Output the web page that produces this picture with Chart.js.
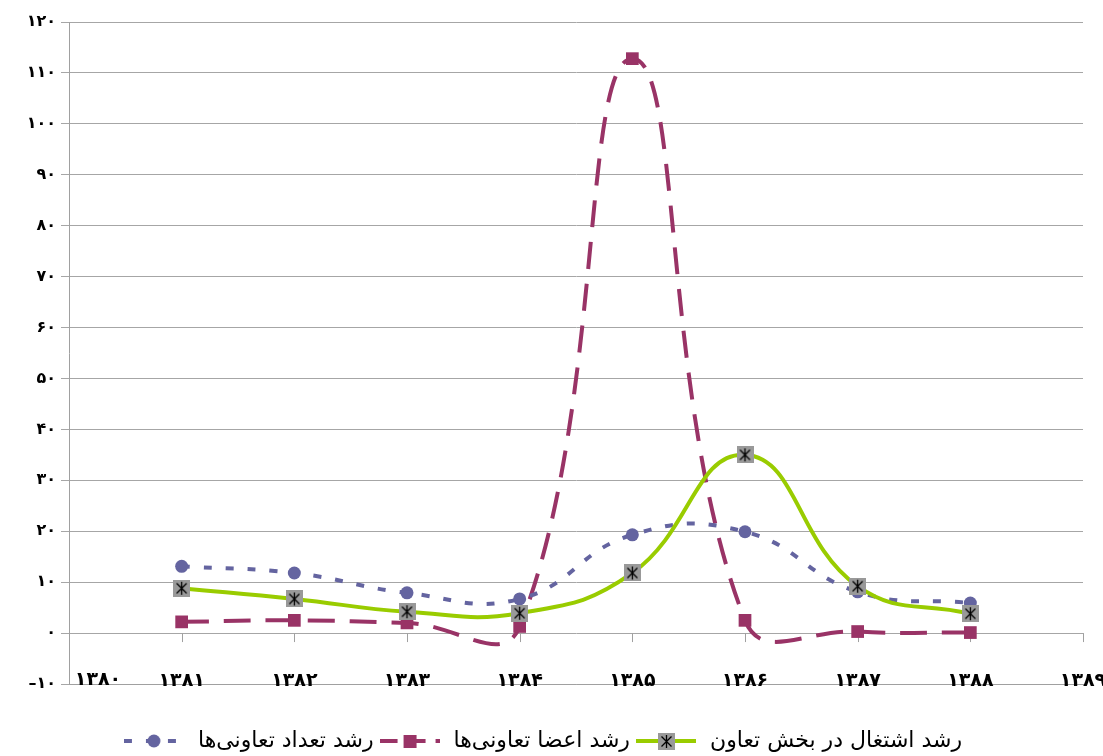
<!DOCTYPE html>
<html>
<head>
<meta charset="utf-8">
<script src="https://cdn.jsdelivr.net/npm/chart.js@4/dist/chart.umd.min.js"></script>
<style>
  html, body { margin: 0; padding: 0; background: #fff; }
  #wrap { width: 1103px; height: 756px; }
</style>
</head>
<body>
<div id="wrap"><canvas id="myChart"></canvas></div>
<script>
const years = [1381, 1382, 1383, 1384, 1385, 1386, 1387, 1388];
const seriesNames = ['رشد تعداد تعاونی‌ها', 'رشد اعضا تعاونی‌ها', 'رشد اشتغال در بخش تعاون'];
const cooperativesGrowth = [13.1, 11.8, 7.9, 6.7, 19.3, 19.9, 8.1, 5.9];
const membersGrowth = [2.2, 2.5, 2.0, 1.3, 112.8, 2.5, 0.3, 0.1];
const employmentGrowth = [8.8, 6.7, 4.2, 3.9, 11.8, 35.0, 9.2, 3.8];

const blue = '#6464a0';
const maroon = '#993366';
const green = '#99cc00';
const fontFamily = '"DejaVu Sans", sans-serif';
const xFont = { family: fontFamily, size: 19, weight: 'bold' };

function toPersian(n) {
    const digits = '۰۱۲۳۴۵۶۷۸۹';
    let s = String(Math.abs(n)).replace(/[0-9]/g, d => digits[d]);
    return n < 0 ? '–' + s : s;
}

function points(values) {
    return values.map((v, i) => ({x: years[i], y: v}));
}

// gray square with an asterisk, used as the green series marker
function starBox() {
    const c = document.createElement('canvas');
    c.width = 17; c.height = 17;
    const g = c.getContext('2d');
    g.fillStyle = '#999999';
    g.fillRect(0, 0, 17, 17);
    g.strokeStyle = '#000';
    g.lineWidth = 1.3;
    g.beginPath();
    g.moveTo(3.5, 3.5); g.lineTo(13.5, 13.5);
    g.moveTo(13.5, 3.5); g.lineTo(3.5, 13.5);
    g.moveTo(8.5, 2); g.lineTo(8.5, 15);
    g.stroke();
    return c;
}

function legendIcon(color, dash, marker) {
    const c = document.createElement('canvas');
    c.width = 60; c.height = 20;
    const g = c.getContext('2d');
    g.strokeStyle = color;
    g.lineWidth = 4;
    g.setLineDash(dash);
    g.beginPath();
    g.moveTo(0, 10); g.lineTo(60, 10);
    g.stroke();
    g.setLineDash([]);
    g.fillStyle = color;
    if (marker === 'circle') {
        g.beginPath(); g.arc(30, 10, 6.5, 0, Math.PI * 2); g.fill();
    } else if (marker === 'rect') {
        g.fillRect(24, 4, 13, 13);
    } else {
        g.drawImage(starBox(), 22, 2);
    }
    return c;
}

const marker = starBox();
const icons = [
    legendIcon(blue, [8, 14], 'circle'),
    legendIcon(maroon, [18, 10], 'rect'),
    legendIcon(green, [], 'star')
];

// tick marks sit on the zero line; first year label is pushed right of the axis
const axisExtras = {
    id: 'axisExtras',
    beforeDatasetsDraw(chart) {
        const x = chart.scales.x, y = chart.scales.y;
        const y0 = y.getPixelForValue(0);
        const c = chart.ctx;
        c.save();
        c.strokeStyle = '#a0a0a0';
        c.lineWidth = 1;
        c.beginPath();
        for (let v = 1381; v <= 1389; v++) {
            const px = Math.round(x.getPixelForValue(v)) + 0.5;
            c.moveTo(px, y0);
            c.lineTo(px, y0 + 9);
        }
        c.stroke();
        c.restore();
    },
    afterDraw(chart) {
        const x = chart.scales.x;
        const c = chart.ctx;
        c.save();
        c.font = 'bold 19px ' + fontFamily;
        c.fillStyle = '#000';
        c.textAlign = 'center';
        c.textBaseline = 'middle';
        c.fillText(toPersian(1380), x.getPixelForValue(1380) + 29, x.top - 4);
        c.restore();
    }
};

const ctx = document.getElementById('myChart');

const chart = new Chart(ctx, {
    type: 'line',
    data: {
        datasets: [{
            label: seriesNames[0],
            data: points(cooperativesGrowth),
            borderColor: blue,
            backgroundColor: blue,
            borderWidth: 4,
            borderDash: [8, 14],
            pointStyle: 'circle',
            pointRadius: 6.5,
            pointBorderWidth: 0,
            tension: 0.45,
            order: 1
        }, {
            label: seriesNames[1],
            data: points(membersGrowth),
            borderColor: maroon,
            backgroundColor: maroon,
            borderWidth: 4,
            borderDash: [27, 15],
            pointStyle: 'rect',
            pointRadius: 9,
            pointBorderWidth: 0,
            tension: 0.45,
            order: 2
        }, {
            label: seriesNames[2],
            data: points(employmentGrowth),
            borderColor: green,
            backgroundColor: green,
            borderWidth: 4,
            pointStyle: marker,
            tension: 0.45,
            order: 0
        }]
    },
    options: {
        responsive: true,
        maintainAspectRatio: false,
        animation: false,
        layout: { padding: { top: 22, right: 20, left: 0, bottom: -6 } },
        scales: {
            x: {
                type: 'linear',
                min: 1380,
                max: 1389,
                afterFit: s => { s.height = 43; },
                ticks: {
                    stepSize: 1,
                    mirror: true,
                    padding: -8,
                    color: '#000',
                    font: xFont,
                    callback: v => v === 1380 ? '' : toPersian(v)
                },
                grid: { drawOnChartArea: false, drawTicks: false },
                border: { color: '#a0a0a0' }
            },
            y: {
                min: -10,
                max: 120,
                afterFit: s => { s.width = 69; },
                ticks: {
                    stepSize: 10,
                    padding: 5,
                    color: '#000',
                    font: { family: fontFamily, size: 16, weight: 'bold' },
                    callback: v => toPersian(v)
                },
                grid: { color: '#a6a6a6', tickLength: 8 },
                border: { color: '#a0a0a0' }
            }
        },
        plugins: {
            tooltip: { enabled: false },
            legend: {
                position: 'bottom',
                labels: {
                    usePointStyle: true,
                    pointStyleWidth: 66,
                    padding: 3,
                    color: '#000',
                    font: { family: fontFamily, size: 22 },
                    generateLabels: ch => ch.data.datasets.map((d, i) => ({
                        text: d.label,
                        pointStyle: icons[i],
                        fillStyle: d.borderColor,
                        strokeStyle: d.borderColor,
                        lineWidth: 0,
                        fontColor: '#000',
                        hidden: false,
                        datasetIndex: i
                    }))
                }
            }
        }
    },
    plugins: [axisExtras]
});
</script>
</body>
</html>
